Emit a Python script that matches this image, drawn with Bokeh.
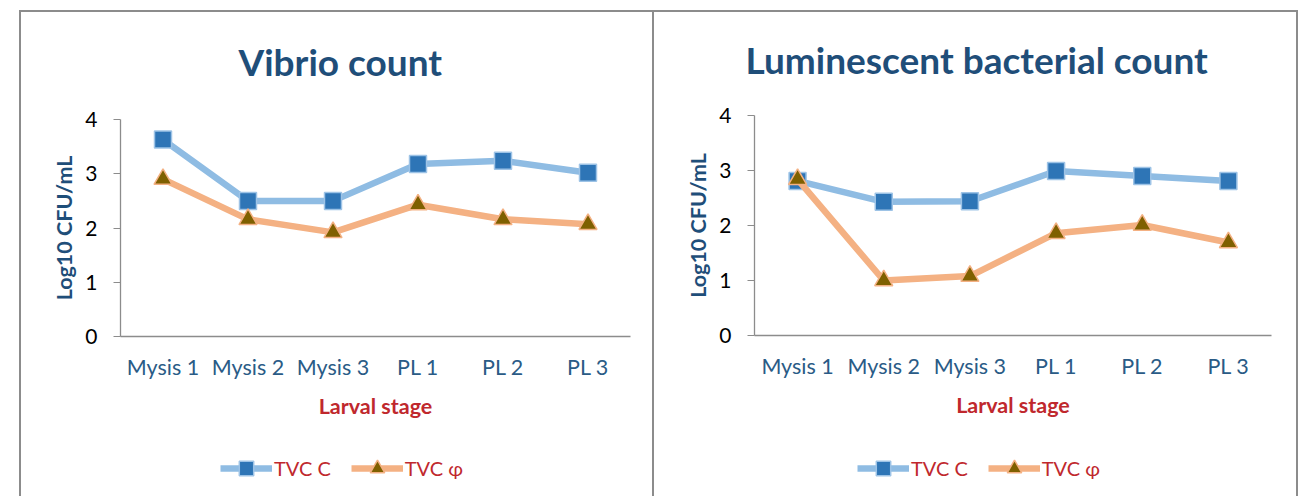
from bokeh.plotting import figure
from bokeh.models import Legend, LegendItem, FactorRange, Range1d, FixedTicker
from bokeh.layouts import row, column
from bokeh.embed import file_html
from bokeh.resources import INLINE

# ---- data ----
stages = ["Mysis 1", "Mysis 2", "Mysis 3", "PL 1", "PL 2", "PL 3"]
vibrio_c = [3.63, 2.50, 2.50, 3.18, 3.24, 3.02]
vibrio_phi = [2.90, 2.16, 1.92, 2.43, 2.16, 2.07]
lum_c = [2.81, 2.43, 2.44, 2.99, 2.90, 2.81]
lum_phi = [2.84, 1.00, 1.08, 1.86, 2.01, 1.69]
y_ticks = [0, 1, 2, 3, 4]
titles = ["Vibrio count", "Luminescent bacterial count"]
series_names = ["TVC C", "TVC \u03c6"]

FONT = "Lato"
DARK_BLUE = "#1F4E79"
TICK_BLUE = "#2A5B86"
RED = "#C0282D"
AXIS_GRAY = "#8C8C8C"
C_LINE, C_FILL, C_EDGE = "#8FBCE3", "#2E75B6", "#9DC3E6"
P_LINE, P_FILL, P_EDGE = "#F4B183", "#7F6000", "#F4B183"


def add_series(p, c_vals, phi_vals):
    l1 = p.line(stages, c_vals, line_color=C_LINE, line_width=6.5)
    s1 = p.scatter(stages, c_vals, marker="square", size=17, fill_color=C_FILL,
                   line_color=C_EDGE, line_width=1.5)
    l2 = p.line(stages, phi_vals, line_color=P_LINE, line_width=6.5)
    s2 = p.scatter(stages, phi_vals, marker="triangle", size=18, fill_color=P_FILL,
                   line_color=P_EDGE, line_width=1.5)
    return l1, s1, l2, s2


def main_panel(title, c_vals, phi_vals, width, borders, title_offset, title_standoff, shadow):
    left, right, top, bottom = borders
    p = figure(x_range=FactorRange(*stages), y_range=Range1d(0, 4),
               width=width, height=440, output_backend="svg", toolbar_location=None,
               min_border_left=left, min_border_right=right,
               min_border_top=top, min_border_bottom=bottom,
               styles={"box-shadow": shadow})
    p.outline_line_color = None
    p.xgrid.grid_line_color = None
    p.ygrid.grid_line_color = None
    p.background_fill_alpha = 0
    p.border_fill_alpha = 0

    p.title.text = title
    p.title.align = "left"
    p.title.offset = title_offset
    p.title.standoff = title_standoff
    p.title.text_font = FONT
    p.title.text_font_style = "bold"
    p.title.text_font_size = "37px"
    p.title.text_color = DARK_BLUE

    p.yaxis.ticker = FixedTicker(ticks=y_ticks)
    p.yaxis.minor_tick_line_color = None
    p.yaxis.major_tick_out = 7
    p.yaxis.major_tick_in = 0
    p.yaxis.major_tick_line_color = AXIS_GRAY
    p.yaxis.axis_line_color = AXIS_GRAY
    p.yaxis.axis_line_width = 1.3
    p.yaxis.major_label_text_font = FONT
    p.yaxis.major_label_text_font_size = "21px"
    p.yaxis.major_label_text_color = "black"
    p.yaxis.major_label_standoff = 16
    p.yaxis.axis_label = "Log10 CFU/mL"
    p.yaxis.axis_label_text_font = FONT
    p.yaxis.axis_label_text_font_style = "bold"
    p.yaxis.axis_label_text_font_size = "21.5px"
    p.yaxis.axis_label_text_color = DARK_BLUE
    p.yaxis.axis_label_standoff = 5

    p.xaxis.major_tick_line_color = None
    p.xaxis.major_tick_out = 0
    p.xaxis.major_tick_in = 0
    p.xaxis.minor_tick_line_color = None
    p.xaxis.axis_line_color = AXIS_GRAY
    p.xaxis.axis_line_width = 1.3
    p.xaxis.major_label_text_font = FONT
    p.xaxis.major_label_text_font_size = "21.5px"
    p.xaxis.major_label_text_color = TICK_BLUE
    p.xaxis.major_label_standoff = 17
    p.xaxis.axis_label = "Larval stage"
    p.xaxis.axis_label_text_font = FONT
    p.xaxis.axis_label_text_font_style = "bold"
    p.xaxis.axis_label_text_font_size = "21.5px"
    p.xaxis.axis_label_text_color = RED
    p.xaxis.axis_label_standoff = 10

    add_series(p, c_vals, phi_vals)
    return p


def legend_panel(c_vals, phi_vals, width, left, right, legend_x, shadow):
    # small companion figure holding only the legend (series plotted off-range)
    p = figure(x_range=FactorRange(*stages), y_range=Range1d(10, 11), title=None,
               width=width, height=56, output_backend="svg", toolbar_location=None,
               x_axis_location=None, y_axis_location=None,
               min_border_left=left, min_border_right=right,
               min_border_top=0, min_border_bottom=0,
               styles={"box-shadow": shadow})
    p.outline_line_color = None
    p.grid.grid_line_color = None
    p.grid.visible = False
    p.background_fill_alpha = 0
    p.border_fill_alpha = 0
    l1, s1, l2, s2 = add_series(p, c_vals, phi_vals)
    legend = Legend(items=[LegendItem(label=series_names[0], renderers=[l1, s1]),
                           LegendItem(label=series_names[1], renderers=[l2, s2])],
                    orientation="horizontal", location=(legend_x, 10),
                    padding=0, margin=0, spacing=20, glyph_width=52, glyph_height=36,
                    label_standoff=2, border_line_color=None, background_fill_alpha=0,
                    label_text_font=FONT, label_text_font_size="20px",
                    label_text_color=RED)
    p.add_layout(legend, "center")
    return p


GRAY = "#8C8C8C"
TOP1 = ("inset 0 10px 0 0 #FFFFFF, inset 19px 0 0 0 #FFFFFF, "
        f"inset 0 12px 0 0 {GRAY}, inset 21px 0 0 0 {GRAY}, inset -1px 0 0 0 {GRAY}")
BOT1 = f"inset 19px 0 0 0 #FFFFFF, inset 21px 0 0 0 {GRAY}, inset -1px 0 0 0 {GRAY}"
TOP2 = (f"inset 0 10px 0 0 #FFFFFF, inset 0 12px 0 0 {GRAY}, "
        f"inset 1px 0 0 0 {GRAY}, inset -2px 0 0 0 {GRAY}")
BOT2 = f"inset 1px 0 0 0 {GRAY}, inset -2px 0 0 0 {GRAY}"

p1 = main_panel(titles[0], vibrio_c, vibrio_phi, 653, (120, 23, 112, 104), 118, 72, TOP1)
l1 = legend_panel(vibrio_c, vibrio_phi, 653, 120, 23, 100, BOT1)
p2 = main_panel(titles[1], lum_c, lum_phi, 645, (101, 27, 105, 105), -9, 68, TOP2)
l2 = legend_panel(lum_c, lum_phi, 645, 101, 27, 103, BOT2)

layout = row(column(p1, l1), column(p2, l2))
open("out.html", "w").write(file_html(layout, INLINE))
